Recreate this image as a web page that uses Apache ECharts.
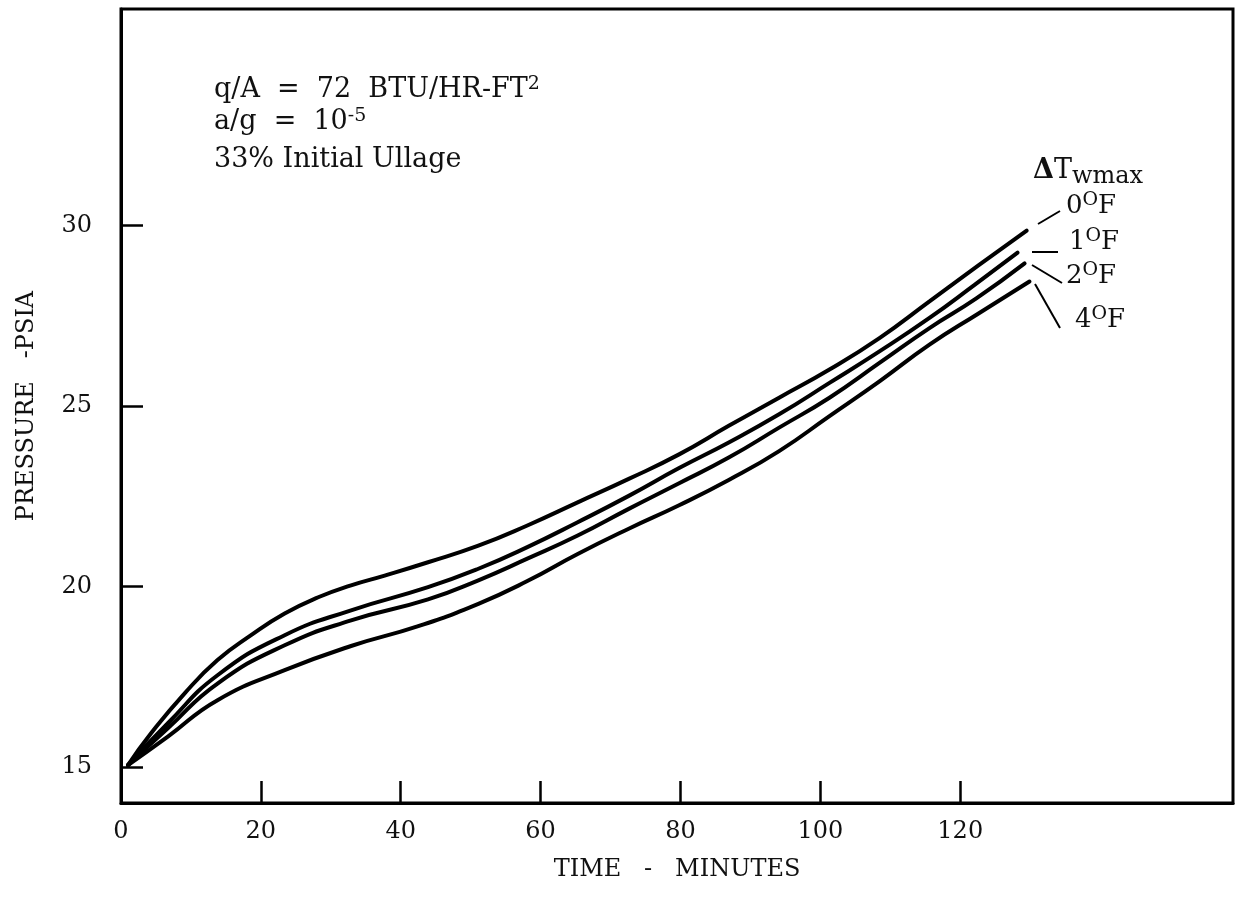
<!DOCTYPE html>
<html>
<head>
<meta charset="utf-8">
<script src="https://cdn.jsdelivr.net/npm/echarts@6/dist/echarts.min.js"></script>
<style>
html,body{margin:0;padding:0;background:#fff;}
#chart{width:1236px;height:910px;}
</style>
</head>
<body>
<div id="chart"></div>
<script>
// Data (time in minutes, pressure in psia)
var curveNames = ['0°F', '1°F', '2°F', '4°F'];
var dT0 = [[1,15.05],[4.3,15.93],[9.1,17.04],[13.8,17.96],[18.6,18.65],[23.4,19.25],[28.2,19.70],[32.9,20.03],[37.7,20.30],[43.9,20.67],[51.1,21.13],[58.1,21.69],[65.3,22.33],[72.6,22.98],[79.8,23.66],[86.9,24.45],[94.1,25.23],[101.3,26.01],[108.5,26.89],[115.6,27.90],[122.5,28.88],[129.5,29.86]];
var dT1 = [[1,15.05],[6.7,16.21],[13.8,17.54],[23.4,18.65],[32.9,19.34],[43.9,19.98],[51.1,20.49],[58.1,21.09],[65.3,21.78],[72.6,22.51],[79.8,23.28],[86.9,23.99],[94.1,24.77],[101.3,25.64],[108.5,26.52],[115.6,27.44],[122.0,28.35],[128.2,29.25]];
var dT2 = [[1,15.05],[6.7,16.07],[13.8,17.31],[23.4,18.37],[32.9,19.06],[43.9,19.64],[51.1,20.17],[58.1,20.77],[65.3,21.41],[72.6,22.15],[79.8,22.86],[86.9,23.57],[94.1,24.40],[101.3,25.23],[108.5,26.20],[115.6,27.16],[122.3,27.98],[129.2,28.95]];
var dT4 = [[1,15.05],[6.7,15.84],[13.8,16.85],[23.4,17.68],[32.9,18.35],[42.5,18.90],[51.1,19.52],[58.1,20.15],[65.3,20.90],[72.6,21.60],[79.8,22.25],[86.9,22.95],[94.1,23.75],[101.3,24.72],[108.5,25.69],[115.6,26.70],[122.5,27.55],[129.9,28.45]];
var xLabelValues = [0,20,40,60,80,100,120];
var xTickValues = [20,40,60,80,100,120];
var yLabelValues = [15,20,25,30];

var FONT = 'DejaVu Serif';
var INK = '#111';

var chart = echarts.init(document.getElementById('chart'));
function lineSeries(name, data) {
  return {
    name: name, type: 'line', data: data, smooth: 0.5, symbol: 'none',
    lineStyle: {color: '#000', width: 4, cap: 'round'}, z: 3
  };
}
function sup(size) { return {fontFamily: FONT, fontSize: size, color: INK, verticalAlign: 'top', padding: [0,0,12,0]}; }
function txt(x, y, text, size, rich) {
  return {type: 'text', x: x, y: y, style: {text: text, fontFamily: FONT, fontSize: size, fill: INK, verticalAlign: 'middle', rich: rich || {}}};
}
chart.setOption({
  animation: false,
  backgroundColor: '#fff',
  grid: {left: 121, right: 3, top: 9, bottom: 107, show: true, borderColor: '#000', borderWidth: 3, backgroundColor: 'transparent'},
  xAxis: {
    type: 'value', min: 0, max: 159,
    name: 'TIME   -   MINUTES', nameLocation: 'middle', nameGap: 55,
    nameTextStyle: {fontFamily: FONT, fontSize: 24, color: INK},
    axisLine: {show: true, lineStyle: {color: '#000', width: 3}},
    axisTick: {show: true, inside: true, length: 22, lineStyle: {color: '#000', width: 2.5}, customValues: xTickValues},
    axisLabel: {fontFamily: FONT, fontSize: 24, color: INK, margin: 17, customValues: xLabelValues},
    splitLine: {show: false}
  },
  yAxis: {
    type: 'value', min: 14, max: 36,
    name: 'PRESSURE   -PSIA', nameLocation: 'middle', nameGap: 82, nameRotate: 90,
    nameTextStyle: {fontFamily: FONT, fontSize: 24, color: INK},
    axisLine: {show: true, lineStyle: {color: '#000', width: 3}},
    axisTick: {show: true, inside: true, length: 22, lineStyle: {color: '#000', width: 2.5}, customValues: yLabelValues},
    axisLabel: {fontFamily: FONT, fontSize: 24, color: INK, margin: 29, customValues: yLabelValues},
    splitLine: {show: false}
  },
  series: [lineSeries(curveNames[0], dT0), lineSeries(curveNames[1], dT1), lineSeries(curveNames[2], dT2), lineSeries(curveNames[3], dT4)],
  graphic: [
    txt(214, 90, 'q/A  =  72  BTU/HR-FT{s|2}', 27, {s: sup(19)}),
    txt(214, 122, 'a/g  =  10{s|-5}', 27, {s: sup(19)}),
    txt(214, 160, '33% Initial Ullage', 27),
    txt(1033, 171, '{d|Δ}T{w|wmax}', 27, {d: {fontFamily: FONT, fontSize: 27, fontWeight: 'bold', color: INK},
      w: {fontFamily: FONT, fontSize: 24, color: INK, verticalAlign: 'bottom', padding: [12,0,0,0]}}),
    txt(1066, 206, '0{s|O}F', 26, {s: sup(19)}),
    txt(1069, 242, '1{s|O}F', 26, {s: sup(19)}),
    txt(1066, 276, '2{s|O}F', 26, {s: sup(19)}),
    txt(1075, 320, '4{s|O}F', 26, {s: sup(19)}),
    {type: 'line', shape: {x1: 1038, y1: 224, x2: 1060, y2: 211}, style: {stroke: '#000', lineWidth: 2}},
    {type: 'line', shape: {x1: 1032, y1: 252, x2: 1058, y2: 252}, style: {stroke: '#000', lineWidth: 2}},
    {type: 'line', shape: {x1: 1032, y1: 265, x2: 1062, y2: 283}, style: {stroke: '#000', lineWidth: 2}},
    {type: 'line', shape: {x1: 1035, y1: 284, x2: 1060, y2: 328}, style: {stroke: '#000', lineWidth: 2}}
  ]
});
</script>
</body>
</html>
